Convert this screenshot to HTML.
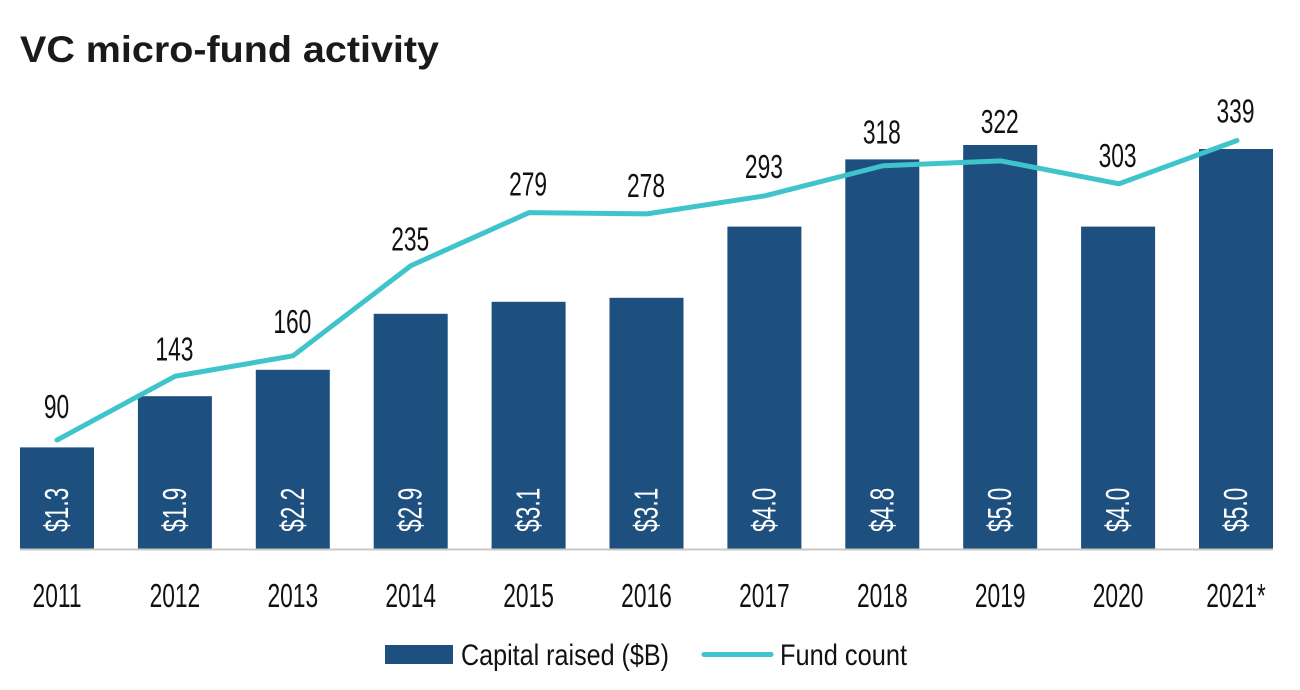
<!DOCTYPE html>
<html>
<head>
<meta charset="utf-8">
<style>
html,body{margin:0;padding:0;background:#fff;}
svg{display:block;}
text{font-family:"Liberation Sans",sans-serif;fill:#111;}
</style>
</head>
<body>
<svg id="chart" width="1300" height="690" viewBox="0 0 1300 690" xmlns="http://www.w3.org/2000/svg">
<text x="20" y="62" style="font-weight:700;font-size:37px;fill:#1a1a1a" textLength="419" lengthAdjust="spacingAndGlyphs">VC micro-fund activity</text>
<g id="bars"></g>
<line x1="20" x2="1273" y1="549.5" y2="549.5" stroke="#cbc8c4" stroke-width="2"></line>
<g id="labels"></g>
<polyline id="fund-line" fill="none" stroke="#40c4cb" stroke-width="5" stroke-linejoin="round" stroke-linecap="round"></polyline>
<g id="legend">
<rect x="385" y="645" width="68" height="19" fill="#1d4f7f"></rect>
<text x="461" y="665" font-size="30" textLength="208" lengthAdjust="spacingAndGlyphs">Capital raised ($B)</text>
<line x1="704" x2="771" y1="654.5" y2="654.5" stroke="#40c4cb" stroke-width="5" stroke-linecap="round"></line>
<text x="780" y="665" font-size="30" textLength="127" lengthAdjust="spacingAndGlyphs">Fund count</text>
</g>
</svg>
<script>
const categories = ["2011","2012","2013","2014","2015","2016","2017","2018","2019","2020","2021*"];
const capitalRaised = [1.27,1.91,2.24,2.94,3.09,3.14,4.03,4.87,5.05,4.03,5.0];
const capitalLabels = ["$1.3","$1.9","$2.2","$2.9","$3.1","$3.1","$4.0","$4.8","$5.0","$4.0","$5.0"];
const fundCount = [90,143,160,235,279,278,293,318,322,303,339];

const NS = "http://www.w3.org/2000/svg";
const baseY = 549;
const barWidth = 74;
const narrow = 0.69;
const xCenter = i => 57 + i * 117.9;
const xLine = i => 57 + i * 118;
const yBar = v => baseY - v * 80;
const yLine = v => 548.3 - v * 1.203;
const labelGap = [22,16,23,15,17,17,18,22,28,17,18];

const barsG = document.getElementById("bars");
const labelsG = document.getElementById("labels");

function makeText(parent, transform, content, anchor, fill) {
  const t = document.createElementNS(NS, "text");
  t.setAttribute("transform", transform);
  t.setAttribute("font-size", 33);
  t.setAttribute("text-anchor", anchor);
  t.style.fill = fill;
  t.textContent = content;
  parent.appendChild(t);
  return t;
}

categories.forEach((c, i) => {
  const key = c.replace("*", "");
  const cx = xCenter(i);

  const r = document.createElementNS(NS, "rect");
  
  
  r.setAttribute("x", cx - barWidth / 2);
  r.setAttribute("y", yBar(capitalRaised[i]));
  r.setAttribute("width", barWidth);
  r.setAttribute("height", baseY - yBar(capitalRaised[i]));
  r.setAttribute("fill", "#1d4f7f");
  barsG.appendChild(r);

  const v = makeText(labelsG, "translate(" + (cx + 11) + ",532) rotate(-90) scale(" + narrow + ",1)", capitalLabels[i], "start", "#ffffff");
  
  

  const f = makeText(labelsG, "translate(" + (cx - 0.5) + "," + (yLine(fundCount[i]) - labelGap[i]) + ") scale(" + narrow + ",1)", String(fundCount[i]), "middle", "#111");
  
  

  const a = makeText(labelsG, "translate(" + cx + ",607) scale(" + narrow + ",1)", c, "middle", "#111");
  
  
});

document.getElementById("fund-line").setAttribute(
  "points",
  fundCount.map((v, i) => xLine(i) + "," + yLine(v)).join(" ")
);
</script>
</body>
</html>
